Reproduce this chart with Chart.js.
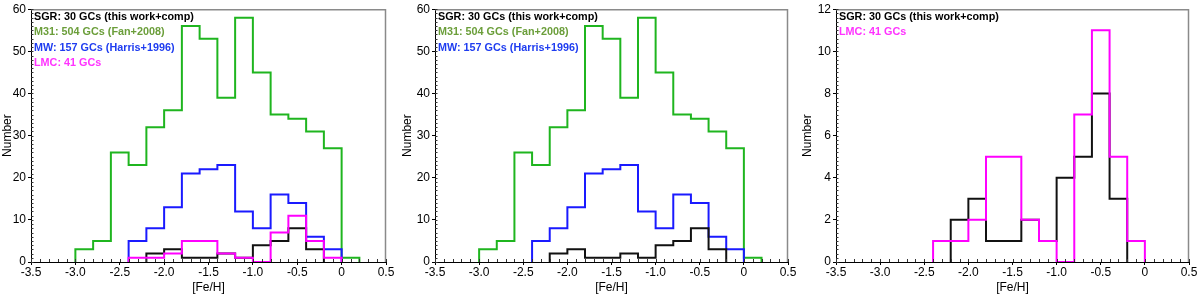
<!DOCTYPE html>
<html>
<head>
<meta charset="utf-8">
<script src="https://cdn.jsdelivr.net/npm/chart.js@4"></script>
<style>
  html, body { margin: 0; padding: 0; background: #fff; }
  #wrap { position: relative; width: 1200px; height: 298px; }
  .panel { position: absolute; top: 0; width: 400px; height: 298px; }
</style>
</head>
<body>
<div id="wrap">
  <div class="panel" style="left:0"><canvas id="c1" width="400" height="298"></canvas></div>
  <div class="panel" style="left:400px"><canvas id="c2" width="400" height="298"></canvas></div>
  <div class="panel" style="left:800px"><canvas id="c3" width="400" height="298"></canvas></div>
</div>
<script>
// lower edges of the [Fe/H] bins (width 0.2)
const binStarts = [-3.0, -2.8, -2.6, -2.4, -2.2, -2.0, -1.8, -1.6, -1.4, -1.2, -1.0, -0.8, -0.6, -0.4, -0.2, 0.0];
const binWidth = 0.2;

// counts per bin, null = outside the histogram
const m31Counts = [3, 5, 26, 23, 32, 36, 56, 53, 39, 58, 45, 35, 34, 31, 27, 1];
const mwCounts  = [null, null, null, 5, 8, 13, 21, 22, 23, 12, 8, 16, 14, 6, 3, null];
const sgrCounts = [null, null, null, null, 2, 3, 1, 1, 2, 1, 4, 5, 8, 3, null, null];
const lmcCounts = [null, null, null, 1, 1, 2, 5, 5, 2, 1, 0, 7, 11, 5, 1, null];

const sgrLabel = 'SGR: 30 GCs (this work+comp)';
const m31Label = 'M31: 504 GCs (Fan+2008)';
const mwLabel  = 'MW: 157 GCs (Harris+1996)';
const lmcLabel = 'LMC: 41 GCs';

const xTicks = [-3.5, -3.0, -2.5, -2.0, -1.5, -1.0, -0.5, 0, 0.5];

const FONT = 'Liberation Sans';
Chart.defaults.font.family = FONT;
Chart.defaults.color = '#000';

// turn bin counts into points for a stepped outline
function stepPoints(counts) {
    let first = counts.findIndex(v => v !== null);
    let last = counts.length - 1;
    while (counts[last] === null) last--;
    const pts = [{ x: binStarts[first], y: 0 }];
    for (let i = first; i <= last; i++) {
        pts.push({ x: binStarts[i], y: counts[i] });
    }
    pts.push({ x: binStarts[last] + binWidth, y: 0 });
    return pts;
}

function histSet(counts, color, order) {
    return {
        data: stepPoints(counts),
        borderColor: color,
        borderWidth: 2,
        stepped: true,
        pointRadius: 0,
        fill: false,
        order: order
    };
}

// legend lines written inside the plot + grey frame + minor ticks
const panelDeco = {
    id: 'panelDeco',
    afterDraw(chart, args, opts) {
        const ctx = chart.ctx;
        const a = chart.chartArea;
        ctx.save();
        // grey frame top/right
        ctx.strokeStyle = '#8a8a8a';
        ctx.lineWidth = 1.5;
        ctx.beginPath();
        ctx.moveTo(a.left, a.top + 0.5);
        ctx.lineTo(a.right - 0.5, a.top + 0.5);
        ctx.lineTo(a.right - 0.5, a.bottom);
        ctx.stroke();
        // minor ticks
        const xs = chart.scales.x, ys = chart.scales.y;
        ctx.strokeStyle = '#333';
        ctx.lineWidth = 1;
        ctx.beginPath();
        for (let v = -3.5; v <= 0.5001; v += 0.1) {
            const px = Math.round(xs.getPixelForValue(v)) + 0.5;
            ctx.moveTo(px, a.bottom);
            ctx.lineTo(px, a.bottom - 3);
        }
        for (let v = 0; v <= ys.max + 0.001; v += opts.yMinor) {
            const py = Math.round(ys.getPixelForValue(v)) + 0.5;
            ctx.moveTo(a.left, py);
            ctx.lineTo(a.left + 2.5, py);
        }
        ctx.stroke();
        // legend text
        ctx.font = 'bold 10.8px ' + FONT;
        ctx.textBaseline = 'middle';
        ctx.textAlign = 'left';
        opts.lines.forEach((ln, i) => {
            ctx.fillStyle = ln.color;
            ctx.fillText(ln.text, a.left + 3, a.top + 8 + i * 15.3);
        });
        ctx.restore();
    }
};

function makeChart(id, datasets, yMax, yStep, yMinor, lines, leftW, padRight) {
    return new Chart(document.getElementById(id), {
        type: 'line',
        data: { datasets: datasets },
        options: {
            responsive: false,
            animation: false,
            layout: { padding: { top: 8, right: padRight, left: 0, bottom: 0 } },
            plugins: {
                legend: { display: false },
                tooltip: { enabled: false },
                panelDeco: { lines: lines, yMinor: yMinor }
            },
            scales: {
                x: {
                    type: 'linear',
                    min: -3.5,
                    max: 0.5,
                    afterBuildTicks: s => { s.ticks = xTicks.map(v => ({ value: v })); },
                    afterFit: s => { s.height = 36; },
                    ticks: {
                        padding: 0,
                        font: { size: 12 },
                        maxRotation: 0,
                        autoSkip: false,
                        callback: v => (v === 0 ? '0' : v.toFixed(1))
                    },
                    grid: { drawOnChartArea: false, drawTicks: true, tickLength: 3, color: '#000' },
                    border: { display: true, color: '#000', width: 1 },
                    title: { display: true, text: '[Fe/H]', font: { size: 12 }, padding: { top: 0, bottom: 3 } }
                },
                y: {
                    min: 0,
                    max: yMax,
                    afterFit: s => { s.width = leftW; },
                    ticks: { stepSize: yStep, padding: 2, font: { size: 12 } },
                    grid: { drawOnChartArea: false, drawTicks: true, tickLength: 3, color: '#000' },
                    border: { display: true, color: '#000', width: 1 },
                    title: { display: true, text: 'Number', font: { size: 12 }, padding: { top: 0, bottom: 0 } }
                }
            }
        },
        plugins: [panelDeco]
    });
}

const GREEN = '#1fb51f', BLUE = '#1a1aff', MAGENTA = '#ff00ff', BLACK = '#111111';

makeChart('c1', [
    histSet(m31Counts, GREEN, 3),
    histSet(mwCounts, BLUE, 2),
    histSet(sgrCounts, BLACK, 1),
    histSet(lmcCounts, MAGENTA, 0)
], 60, 10, 1, [
    { text: sgrLabel, color: '#000' },
    { text: m31Label, color: '#6b9e3a' },
    { text: mwLabel, color: '#1f3df0' },
    { text: lmcLabel, color: '#ff33ff' }
], 31, 14);

makeChart('c2', [
    histSet(m31Counts, GREEN, 3),
    histSet(mwCounts, BLUE, 2),
    histSet(sgrCounts, BLACK, 1)
], 60, 10, 1, [
    { text: sgrLabel, color: '#000' },
    { text: m31Label, color: '#6b9e3a' },
    { text: mwLabel, color: '#1f3df0' }
], 35, 12);

makeChart('c3', [
    histSet(sgrCounts, BLACK, 1),
    histSet(lmcCounts, MAGENTA, 0)
], 12, 2, 0.2, [
    { text: sgrLabel, color: '#000' },
    { text: lmcLabel, color: '#ff33ff' }
], 36, 11);
</script>
</body>
</html>
